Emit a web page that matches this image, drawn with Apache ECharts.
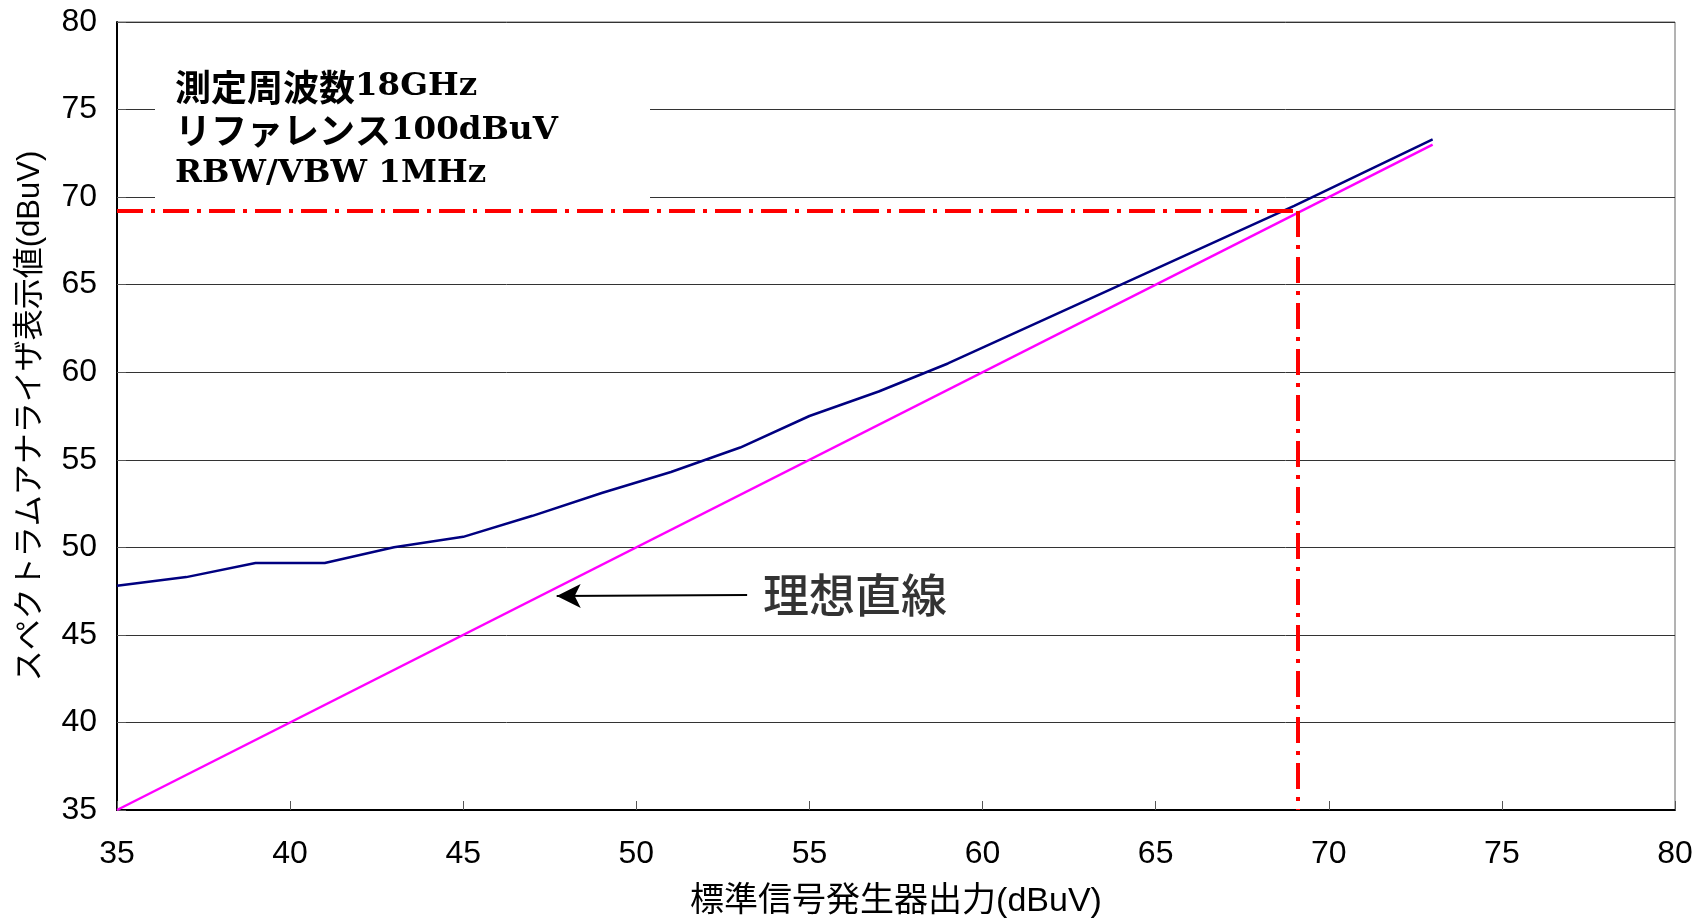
<!DOCTYPE html>
<html>
<head>
<meta charset="utf-8">
<script src="https://cdn.jsdelivr.net/npm/echarts@6/dist/echarts.min.js"></script>
<style>html,body{margin:0;padding:0;background:#fff;}#main{width:1696px;height:922px;}</style>
</head>
<body>
<div id="main"></div>
<script>
// ---- data ----
const sgOutput = [35, 37, 39, 41, 43, 45, 47, 49, 51, 53, 55, 57, 59, 61, 63, 65, 67, 69, 71, 73];
const analyzerReading = [47.8, 48.3, 49.1, 49.1, 50.0, 50.6, 51.8, 53.1, 54.3, 55.7, 57.5, 58.9, 60.5, 62.3, 64.1, 65.9, 67.7, 69.5, 71.4, 73.3];
const idealX = [35, 73];
const idealY = [35, 73];
const markerX = 69.1;
const markerY = 69.2;
const arrowTail = [53.2, 47.28];
const arrowHead = [47.7, 47.22];
const arrowLabel = '理想直線';
const infoLines = ['測定周波数18GHz', 'リファレンス100dBuV', 'RBW/VBW 1MHz'];
const xTicks = {min: 35, max: 80, interval: 5};
const yTicks = {min: 35, max: 80, interval: 5};
const xName = '標準信号発生器出力(dBuV)';
const yName = 'スペクトラムアナライザ表示値(dBuV)';

// split each info line into CJK / latin runs for rich text
function toRich(line) {
  const runs = line.match(/[\u3000-\u9fff\uff00-\uffef]+|[^\u3000-\u9fff\uff00-\uffef]+/g) || [];
  return runs.map(r => (/[\u3000-\u9fff\uff00-\uffef]/.test(r) ? '{j|' : '{l|') + r + '}').join('');
}

const chart = echarts.init(document.getElementById('main'));
const sans = '"Liberation Sans", "Noto Sans CJK JP", sans-serif';
chart.setOption({
  backgroundColor: '#fff',
  animation: false,
  grid: {left: 117, right: 21, top: 22, bottom: 112, show: true, borderColor: '#666', borderWidth: 1,
    containLabel: false, outerBoundsMode: 'none'},
  xAxis: {
    type: 'value', min: xTicks.min, max: xTicks.max, interval: xTicks.interval,
    name: xName, nameLocation: 'middle', nameGap: 75,
    nameTextStyle: {fontSize: 34, color: '#000', fontFamily: sans},
    axisLine: {lineStyle: {color: '#000', width: 2}},
    axisTick: {inside: true, length: 9, lineStyle: {color: '#555', width: 1}},
    axisLabel: {fontSize: 32, color: '#000', fontFamily: sans, margin: 28},
    splitLine: {show: false}
  },
  yAxis: {
    type: 'value', min: yTicks.min, max: yTicks.max, interval: yTicks.interval,
    name: yName, nameLocation: 'middle', nameGap: 71,
    nameTextStyle: {fontSize: 31, color: '#000', fontFamily: sans},
    axisLine: {lineStyle: {color: '#000', width: 2}},
    axisTick: {inside: true, length: 9, lineStyle: {color: '#555', width: 1}},
    axisLabel: {fontSize: 32, color: '#000', fontFamily: sans, margin: 20},
    splitLine: {show: true, lineStyle: {color: '#333', width: 1}}
  },
  graphic: [
    {type: 'rect', z: 10, shape: {x: 155, y: 52, width: 495, height: 150}, style: {fill: '#fff'}},
    {type: 'text', z: 11, left: 175, top: 69, style: {
      text: infoLines.map(toRich).join('\n'), fill: '#000',
      rich: {
        j: {fontSize: 36, fontWeight: 'bold', lineHeight: 43.5, fontFamily: '"Noto Sans CJK JP", sans-serif', fill: '#000'},
        l: {fontSize: 32.5, fontWeight: 'bold', lineHeight: 43.5, fontFamily: '"DejaVu Serif", serif', fill: '#000'}
      }
    }}
  ],
  series: [
    {
      type: 'line', name: 'measured', symbol: 'none', z: 3,
      data: sgOutput.map((x, i) => [x, analyzerReading[i]]),
      lineStyle: {color: '#000080', width: 2.5}
    },
    {
      type: 'line', name: 'ideal', symbol: 'none', z: 4,
      data: idealX.map((x, i) => [x, idealY[i]]),
      lineStyle: {color: '#ff00ff', width: 2.5},
      markLine: {
        silent: true, symbol: 'none', animation: false,
        label: {show: false},
        lineStyle: {color: '#ff0000', width: 4, type: [26, 8, 4, 8]},
        data: [
          [{coord: [xTicks.min, markerY]}, {coord: [markerX, markerY]}],
          [{coord: [markerX, markerY]}, {coord: [markerX, yTicks.min]}]
        ]
      }
    },
    {
      type: 'line', name: 'arrow', symbol: 'none', z: 5,
      data: [],
      markLine: {
        silent: true, animation: false,
        symbol: ['none', 'arrow'], symbolSize: [18, 24],
        label: {show: false},
        lineStyle: {color: '#000', width: 2, type: 'solid'},
        data: [[{coord: arrowTail}, {coord: arrowHead}]]
      }
    },
    {
      type: 'scatter', name: 'label', symbolSize: 0, z: 6,
      data: [[arrowTail[0], arrowTail[1]]],
      label: {show: true, position: 'right', distance: 16, formatter: arrowLabel,
        fontSize: 46, fontWeight: 500, color: '#000', fontFamily: '"Noto Sans CJK JP", sans-serif'}
    }
  ]
});
</script>
</body>
</html>
